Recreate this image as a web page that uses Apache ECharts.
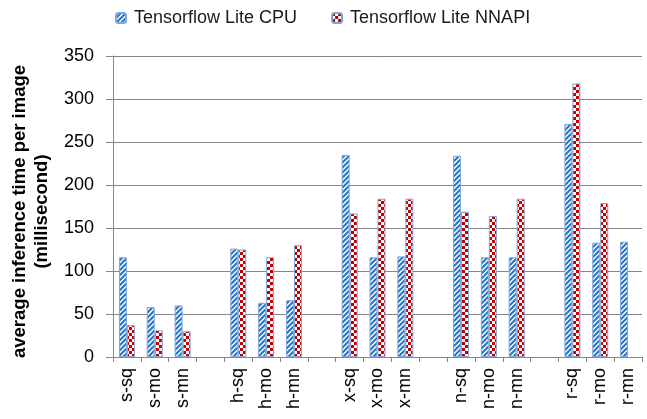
<!DOCTYPE html>
<html>
<head>
<meta charset="utf-8">
<script src="https://cdn.jsdelivr.net/npm/echarts@6/dist/echarts.min.js"></script>
<style>
html,body{margin:0;padding:0;background:#fff;}
#chart{width:647px;height:419px;}
</style>
</head>
<body>
<div id="chart"></div>
<script>
// ---- data ----
const categories = ['s-sq','s-mo','s-mn',' ','h-sq','h-mo','h-mn','  ','x-sq','x-mo','x-mn','   ','n-sq','n-mo','n-mn','    ','r-sq','r-mo','r-mn'];
const cpuValues   = [116, 58, 60, null, 126, 63, 66, null, 235, 116, 117, null, 234, 116, 116, null, 271, 133, 134];
const nnapiValues = [37, 31, 30, null, 125, 116, 130, null, 167, 184, 184, null, 169, 164, 184, null, 318, 179, null];
const seriesNames = ['Tensorflow Lite CPU', 'Tensorflow Lite NNAPI'];
const yTicks = [0, 50, 100, 150, 200, 250, 300, 350];

// ---- patterns ----
function stripePattern() {
  const s = 5;
  const c = document.createElement('canvas');
  c.width = s; c.height = s;
  const g = c.getContext('2d');
  g.fillStyle = '#ffffff';
  g.fillRect(0, 0, s, s);
  g.strokeStyle = '#2b78c8';
  g.lineWidth = 2.2;
  g.beginPath();
  g.moveTo(-1, s + 1); g.lineTo(s + 1, -1);
  g.moveTo(-1, 1); g.lineTo(1, -1);
  g.moveTo(s - 1, s + 1); g.lineTo(s + 1, s - 1);
  g.stroke();
  return c;
}
function checkerPattern() {
  const cell = 3;
  const c = document.createElement('canvas');
  c.width = cell * 2; c.height = cell * 2;
  const g = c.getContext('2d');
  g.fillStyle = '#ffffff';
  g.fillRect(0, 0, cell * 2, cell * 2);
  g.fillStyle = '#c00000';
  g.fillRect(0, 0, cell, cell);
  g.fillRect(cell, cell, cell, cell);
  return c;
}

const FONT = 'Liberation Sans';
const AXIS_GREY = '#868686';

const chart = echarts.init(document.getElementById('chart'), null, {renderer: 'canvas'});
chart.setOption({
  animation: false,
  backgroundColor: '#ffffff',
  legend: {
    top: 4,
    left: 110,
    itemWidth: 10,
    itemHeight: 10,
    itemGap: 34,
    textStyle: {fontFamily: FONT, fontSize: 18, color: '#1a1a1a', padding: [0, 0, 0, 3]},
    data: seriesNames
  },
  grid: {left: 113, right: 5, top: 56, bottom: 62, containLabel: false},
  xAxis: {
    type: 'category',
    data: categories,
    boundaryGap: true,
    axisLine: {show: true, lineStyle: {color: AXIS_GREY, width: 1}},
    axisTick: {show: true, interval: 0, length: 5, lineStyle: {color: AXIS_GREY}},
    axisLabel: {interval: 0, rotate: 90, margin: 11, fontFamily: FONT, fontSize: 18, color: '#000'},
    splitLine: {show: false}
  },
  yAxis: {
    type: 'value',
    min: yTicks[0],
    max: yTicks[yTicks.length - 1],
    interval: 50,
    name: 'average inference time per image\n(millisecond)',
    nameLocation: 'middle',
    nameGap: 50,
    nameTextStyle: {fontFamily: FONT, fontSize: 18.5, fontWeight: 'bold', color: '#000', lineHeight: 22, padding: [0, 10, 0, 0]},
    axisLine: {show: true, lineStyle: {color: AXIS_GREY, width: 1}},
    axisTick: {show: true, length: 7, lineStyle: {color: AXIS_GREY}},
    axisLabel: {margin: 19, fontFamily: FONT, fontSize: 18, color: '#000'},
    splitLine: {show: true, lineStyle: {color: AXIS_GREY, width: 1}}
  },
  series: [
    {
      name: seriesNames[0],
      type: 'bar',
      data: cpuValues,
      barWidth: 8,
      barGap: '0%',
      itemStyle: {color: {image: stripePattern(), repeat: 'repeat'}, borderColor: '#7fa7da', borderWidth: 1}
    },
    {
      name: seriesNames[1],
      type: 'bar',
      data: nnapiValues,
      barWidth: 8,
      barGap: '0%',
      itemStyle: {color: {image: checkerPattern(), repeat: 'repeat'}, borderColor: '#7fa7da', borderWidth: 1}
    }
  ]
});
</script>
</body>
</html>
